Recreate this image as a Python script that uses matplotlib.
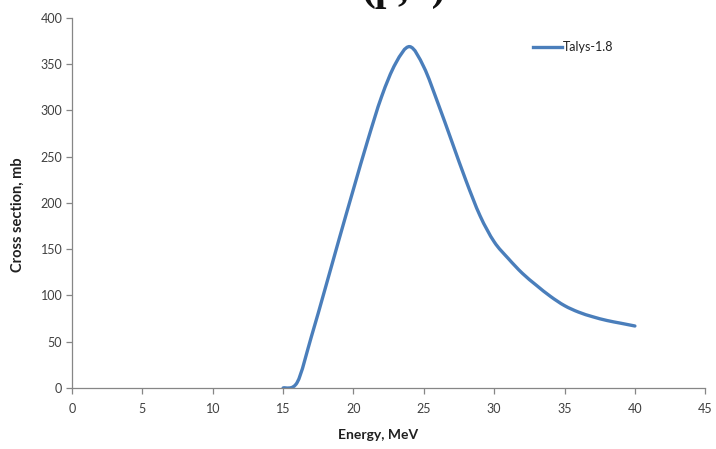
import matplotlib
matplotlib.use("Agg")
import matplotlib.pyplot as plt
from matplotlib.path import Path
from matplotlib.patches import PathPatch
from matplotlib.lines import Line2D

# Talys-1.8 excitation function
energy = [15, 16, 17, 18, 19, 20, 21, 22, 23, 24, 25, 26, 27, 28, 29, 30,
          31, 32, 33, 34, 35, 36, 37, 38, 39, 40]
cross_section = [0, 6, 55, 108, 162, 215, 267, 315, 351, 369, 347, 308, 266,
                 224, 186, 158, 140, 124, 111, 99, 89, 82, 77, 73, 70, 67]

x_ticks = [0, 5, 10, 15, 20, 25, 30, 35, 40, 45]
y_ticks = [0, 50, 100, 150, 200, 250, 300, 350, 400]

line_color = "#4A7EBB"

plt.rcParams["font.family"] = ["Lato", "DejaVu Sans"]


def smooth_path(xs, ys):
    # spreadsheet-style smoothed line: bezier segments through the points
    pts = list(zip(xs, ys))
    n = len(pts)
    verts = [pts[0]]
    codes = [Path.MOVETO]
    for i in range(n - 1):
        p0 = pts[i - 1] if i > 0 else pts[i]
        p1 = pts[i]
        p2 = pts[i + 1]
        p3 = pts[i + 2] if i + 2 < n else pts[i + 1]
        c1 = (p1[0] + (p2[0] - p0[0]) / 6, p1[1] + (p2[1] - p0[1]) / 6)
        c2 = (p2[0] - (p3[0] - p1[0]) / 6, p2[1] - (p3[1] - p1[1]) / 6)
        verts += [c1, c2, p2]
        codes += [Path.CURVE4] * 3
    return Path(verts, codes)


fig = plt.figure(figsize=(7.16, 4.49), dpi=100)
ax = fig.add_axes([0.1006, 0.1359, 0.8844, 0.8241])

curve = PathPatch(smooth_path(energy, cross_section), facecolor="none",
                  edgecolor=line_color, linewidth=2.4, capstyle="round",
                  joinstyle="round")
ax.add_patch(curve)

ax.set_xlim(0, 45)
ax.set_ylim(0, 400)
ax.set_xticks(x_ticks)
ax.set_yticks(y_ticks)

for side in ["top", "right"]:
    ax.spines[side].set_visible(False)
for side in ["left", "bottom"]:
    ax.spines[side].set_color("#868686")
    ax.spines[side].set_linewidth(0.9)

ax.tick_params(axis="both", direction="out", length=4, width=0.9,
               color="#868686", labelcolor="#404040", labelsize=9)
ax.tick_params(axis="x", pad=7)
ax.tick_params(axis="y", pad=3)

ax.set_xlabel("Energy, MeV", fontsize=10, fontweight="bold", color="#202020")
ax.set_ylabel("Cross section, mb", fontsize=10.5, fontweight="bold",
              color="#202020")
ax.xaxis.set_label_coords(0.483, -0.11)
ax.yaxis.set_label_coords(-0.074, 0.468)

handle = Line2D([], [], color=line_color, linewidth=2.4)
ax.legend([handle], ["Talys-1.8"], loc="upper right",
          bbox_to_anchor=(0.873, 0.968), frameon=False, fontsize=9,
          handlelength=2.3, handletextpad=0.1, labelcolor="#202020")

# cut-off slide title at the very top
fig.text(0.563, 1.0, "(p,n)", fontsize=30, fontweight="bold",
         family="Liberation Serif", ha="center", va="baseline", color="#111111")

fig.savefig("out.png", dpi=100)
